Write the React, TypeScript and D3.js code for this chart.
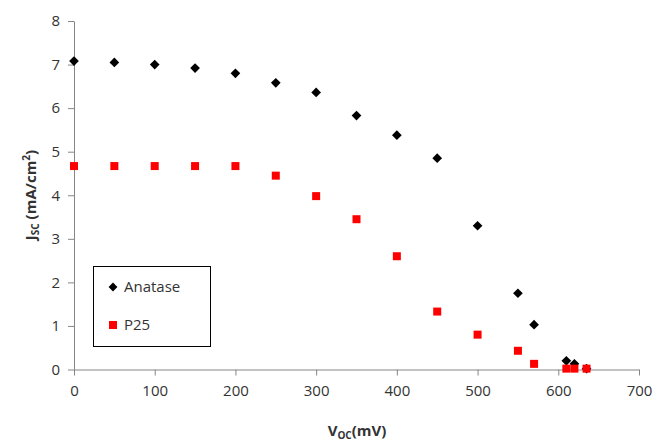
import { useEffect, useRef } from "react";
import * as d3 from "d3";

const voltage = [0, 50, 100, 150, 200, 250, 300, 350, 400, 450, 500, 550, 570, 610, 620, 635];
const anatase = [7.08, 7.05, 7.0, 6.92, 6.8, 6.58, 6.36, 5.83, 5.38, 4.85, 3.3, 1.75, 1.03, 0.2, 0.13, 0.02];
const p25 = [4.67, 4.67, 4.67, 4.67, 4.67, 4.45, 3.98, 3.45, 2.6, 1.33, 0.8, 0.43, 0.13, 0.02, 0.02, 0.02];
const xTicks = [0, 100, 200, 300, 400, 500, 600, 700];
const yTicks = [0, 1, 2, 3, 4, 5, 6, 7, 8];

const W = 661;
const H = 443;
const FONT = "'Open Sans', 'Liberation Sans', sans-serif";

const App = () => {
  const svgRef = useRef<SVGSVGElement | null>(null);

  useEffect(() => {
    const svg = d3.select(svgRef.current).attr("width", W).attr("height", H);
    svg.selectAll("*").remove();

    const x = d3.scaleLinear().domain([0, 700]).range([74, 639]);
    const y = d3.scaleLinear().domain([0, 8]).range([369.5, 21]);

    svg.append("rect").attr("width", W).attr("height", H).attr("fill", "#fff");

    const xAxis = svg
      .append("g")
      .attr("transform", `translate(0,${y(0)})`)
      .call(d3.axisBottom(x).tickValues(xTicks).tickSize(6).tickSizeOuter(0).tickPadding(10));
    const yAxis = svg
      .append("g")
      .attr("transform", `translate(${x(0)},0)`)
      .call(d3.axisLeft(y).tickValues(yTicks).tickSize(6).tickSizeOuter(0).tickPadding(8));

    [xAxis, yAxis].forEach((g) => {
      g.selectAll("path, line").attr("stroke", "#868686");
      g.selectAll("text")
        .attr("fill", "#333")
        .style("font-family", FONT)
        .style("font-size", "15px");
    });

    // anatase diamonds
    svg
      .append("g")
      .selectAll("path")
      .data(voltage)
      .enter()
      .append("path")
      .attr("d", d3.symbol().type(d3.symbolDiamond2).size(60)())
      .attr("transform", (v, i) => `translate(${x(v)},${y(anatase[i])})`)
      .attr("fill", "#000");

    // p25 squares
    svg
      .append("g")
      .selectAll("rect")
      .data(voltage)
      .enter()
      .append("rect")
      .attr("x", (v) => x(v) - 4)
      .attr("y", (v, i) => y(p25[i]) - 4)
      .attr("width", 8)
      .attr("height", 8)
      .attr("fill", "#ff0000");

    // axis titles
    const xt = svg
      .append("text")
      .attr("x", 357)
      .attr("y", 436)
      .attr("text-anchor", "middle")
      .attr("fill", "#333")
      .style("font-family", FONT)
      .style("font-size", "15px")
      .style("font-weight", "bold");
    xt.append("tspan").text("V");
    xt.append("tspan").text("OC").attr("font-size", "10px").attr("dy", 3);
    xt.append("tspan").text("(mV)").attr("dy", -3);

    const yt = svg
      .append("text")
      .attr("transform", "translate(36,195) rotate(-90)")
      .attr("text-anchor", "middle")
      .attr("fill", "#333")
      .style("font-family", FONT)
      .style("font-size", "15px")
      .style("font-weight", "bold");
    yt.append("tspan").text("J");
    yt.append("tspan").text("SC").attr("font-size", "10px").attr("dy", 3);
    yt.append("tspan").text(" (mA/cm").attr("dy", -3);
    yt.append("tspan").text("2").attr("font-size", "10px").attr("dy", -6);
    yt.append("tspan").text(")").attr("dy", 6);

    // legend
    const lg = svg.append("g");
    lg.append("rect")
      .attr("x", 93.5)
      .attr("y", 266.5)
      .attr("width", 117)
      .attr("height", 80)
      .attr("fill", "#fff")
      .attr("stroke", "#000")
      .attr("stroke-width", 1);
    lg.append("path")
      .attr("d", d3.symbol().type(d3.symbolDiamond2).size(50)())
      .attr("transform", "translate(113,287)")
      .attr("fill", "#000");
    lg.append("rect").attr("x", 109).attr("y", 321).attr("width", 8).attr("height", 8).attr("fill", "#ff0000");
    [
      ["Anatase", 287],
      ["P25", 325],
    ].forEach(([t, ty]) => {
      lg.append("text")
        .attr("x", 124)
        .attr("y", ty as number)
        .attr("dy", "0.35em")
        .attr("fill", "#333")
        .style("font-family", FONT)
        .style("font-size", "15px")
        .text(t as string);
    });
  }, []);

  return (
    <div style={{ position: "absolute", left: 0, top: 0 }}>
      <svg ref={svgRef} />
    </div>
  );
};

export default App;
